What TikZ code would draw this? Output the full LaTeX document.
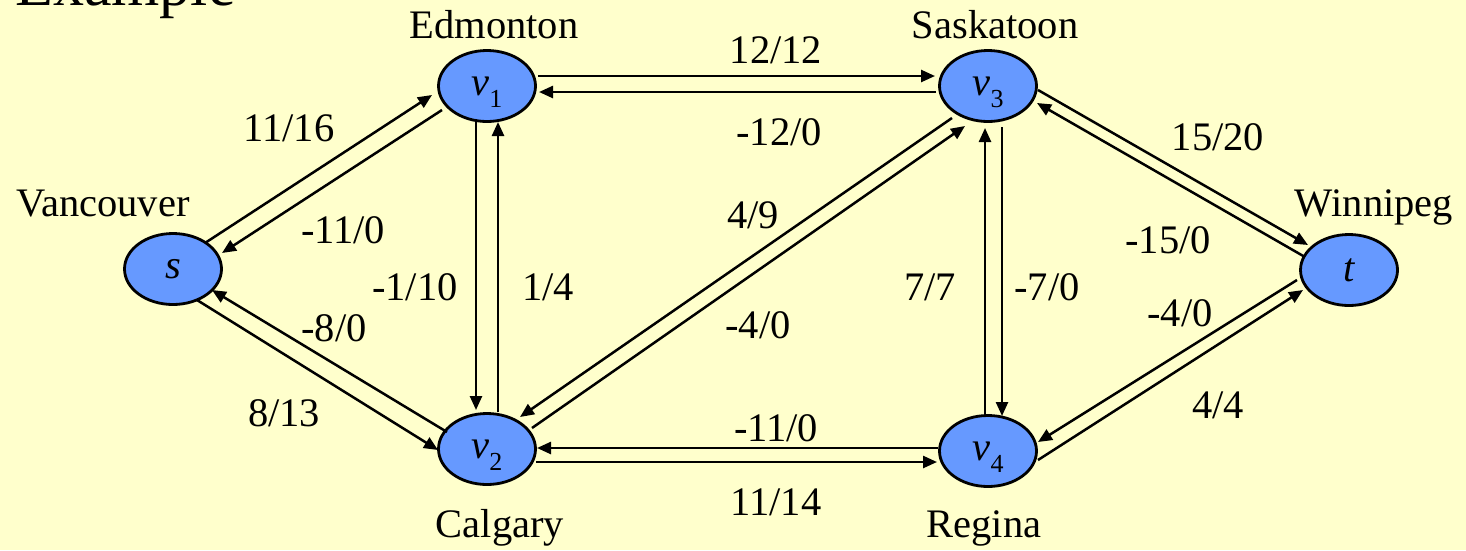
\documentclass[tikz,border=0pt]{standalone}
\usepackage{fontspec}
\setmainfont{Liberation Serif}
\usetikzlibrary{shapes.geometric,arrows.meta}
\definecolor{bgyellow}{HTML}{FFFFCC}
\definecolor{nodeblue}{HTML}{6699FF}
\newcommand\vsub[1]{\raisebox{-12pt}{\fontsize{26}{26}\selectfont\upshape #1}}
\begin{document}
\begin{tikzpicture}[x=1pt,y=-1pt,
  vert/.style={ellipse,draw=black,line width=2.8pt,fill=nodeblue,minimum width=97pt,minimum height=71pt,inner sep=0pt,text depth=0pt,font=\fontsize{40.5}{45}\selectfont\itshape},
  city/.style={anchor=base,inner sep=0pt,font=\fontsize{40.5}{45}\selectfont},
  flowlbl/.style={anchor=center,inner sep=0pt,text height=27pt,text depth=0pt,font=\fontsize{40.5}{45}\selectfont},
  flowedge/.style={line width=2.5pt,-{Triangle[length=14pt,width=12pt]}},
]
\clip (0,0) rectangle (1466,550);
\fill[bgyellow] (0,0) rectangle (1466,550);
\useasboundingbox (0,0) rectangle (1466,550);

\node[anchor=base west,inner sep=0pt,font=\fontsize{62}{70}\selectfont] (title) at (15,5) {Example};

% vertices
\node[vert] (s)  at (173,269) {s};
\node[vert] (v1) at (487,86)  {v\vsub{1}};
\node[vert] (v2) at (487,449) {v\vsub{2}};
\node[vert] (v3) at (988,86)  {v\vsub{3}};
\node[vert] (v4) at (988,451) {v\vsub{4}};
\node[vert] (t)  at (1349,270) {t};

% city names
\node[city] (van) at (103,216) {Vancouver};
\node[city] (edm) at (494,38) {Edmonton};
\node[city] (sas) at (995,38) {Saskatoon};
\node[city] (win) at (1374,216) {Winnipeg};
\node[city] (cal) at (500,537) {Calgary};
\node[city] (reg) at (984,537) {Regina};

% edges s - v1
\draw[flowedge] ([shift={(32,-26)}]s.center) -- ([shift={(-55,9)}]v1.center);
\draw[flowedge] ([shift={(-45,24)}]v1.center) -- ([shift={(49,-16)}]s.center);
% edges s - v2
\draw[flowedge] ([shift={(-40,-17)}]v2.center) -- ([shift={(39,21)}]s.center);
\draw[flowedge] ([shift={(24,31)}]s.center) -- ([shift={(-49,1)}]v2.center);
% edges v1 - v2
\draw[flowedge] ([shift={(-11,33)}]v1.center) -- ([shift={(-11,-39)}]v2.center);
\draw[flowedge] ([shift={(11,-37)}]v2.center) -- ([shift={(11,36)}]v1.center);
% edges v1 - v3
\draw[flowedge] ([shift={(51,-10)}]v1.center) -- ([shift={(-53,-10)}]v3.center);
\draw[flowedge] ([shift={(-52,6)}]v3.center) -- ([shift={(52,6)}]v1.center);
% edges v2 - v3
\draw[flowedge] ([shift={(-36,32)}]v3.center) -- ([shift={(33,-32)}]v2.center);
\draw[flowedge] ([shift={(45,-21)}]v2.center) -- ([shift={(-23,40)}]v3.center);
% edges v2 - v4
\draw[flowedge] ([shift={(-50,-3)}]v4.center) -- ([shift={(50,-1)}]v2.center);
\draw[flowedge] ([shift={(49,13)}]v2.center) -- ([shift={(-51,11)}]v4.center);
% edges v3 - v4
\draw[flowedge] ([shift={(-3,-36)}]v4.center) -- ([shift={(-3,42)}]v3.center);
\draw[flowedge] ([shift={(14,41)}]v3.center) -- ([shift={(14,-35)}]v4.center);
% edges v3 - t
\draw[flowedge] ([shift={(50,4)}]v3.center) -- ([shift={(-41,-25)}]t.center);
\draw[flowedge] ([shift={(-44,-13)}]t.center) -- ([shift={(49,17)}]v3.center);
% edges v4 - t
\draw[flowedge] ([shift={(-52,10)}]t.center) -- ([shift={(50,-9)}]v4.center);
\draw[flowedge] ([shift={(50,9)}]v4.center) -- ([shift={(-46,20)}]t.center);

% flow labels
\node[flowlbl] (l1)  at (289,128) {11/16};
\node[flowlbl] (l2)  at (343,230) {-11/0};
\node[flowlbl] (l3)  at (334,328) {-8/0};
\node[flowlbl] (l4)  at (284,413) {8/13};
\node[flowlbl] (l5)  at (415,287) {-1/10};
\node[flowlbl] (l6)  at (548,287) {1/4};
\node[flowlbl] (l7)  at (776,50)  {12/12};
\node[flowlbl] (l8)  at (779,132) {-12/0};
\node[flowlbl] (l9)  at (753,215) {4/9};
\node[flowlbl] (l10) at (758,325) {-4/0};
\node[flowlbl] (l11) at (776,428) {-11/0};
\node[flowlbl] (l12) at (776,502) {11/14};
\node[flowlbl] (l13) at (930,287) {7/7};
\node[flowlbl] (l14) at (1047,287) {-7/0};
\node[flowlbl] (l15) at (1218,137) {15/20};
\node[flowlbl] (l16) at (1168,240) {-15/0};
\node[flowlbl] (l17) at (1180,313) {-4/0};
\node[flowlbl] (l18) at (1218,405) {4/4};
\end{tikzpicture}
\end{document}
